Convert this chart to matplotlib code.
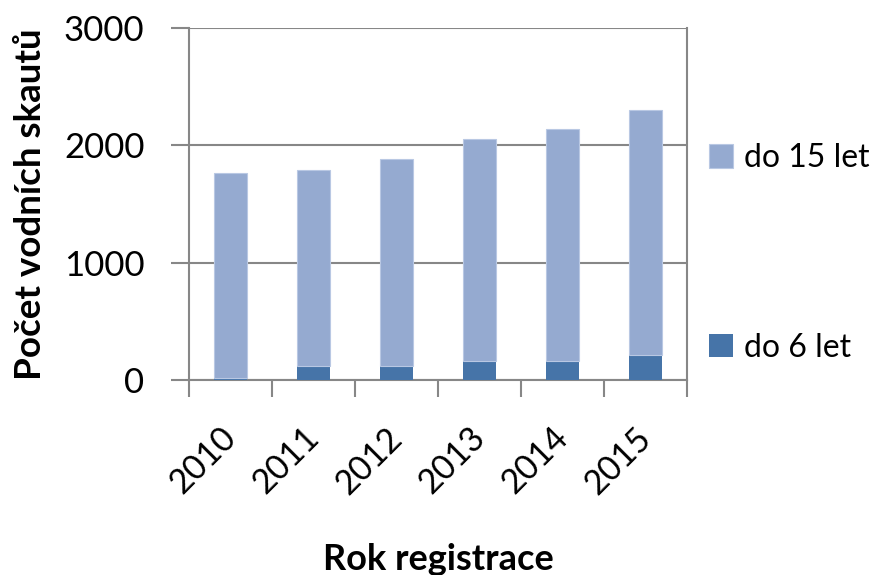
import matplotlib.pyplot as plt
import numpy as np

plt.rcParams['font.family'] = ['Lato', 'DejaVu Sans']

# data
roky = ['2010', '2011', '2012', '2013', '2014', '2015']
do_6 = [20, 122, 122, 158, 165, 216]
celkem = [1760, 1789, 1883, 2054, 2142, 2298]
do_15 = [c - d for c, d in zip(celkem, do_6)]

seda = '#878787'
fig = plt.figure(figsize=(8.94, 5.75), dpi=100)
ax = fig.add_axes([189/894, 1 - 380/575, (687-189)/894, (380-28)/575])

x = np.arange(len(roky))
ax.bar(x, do_6, width=0.4, color='#4674A8', label='do 6 let', zorder=3)
ax.bar(x, do_15, width=0.4, bottom=do_6, color='#95AAD0', edgecolor='#B9C8E3',
       linewidth=0.8, label='do 15 let', zorder=3)

ax.set_xlim(-0.5, len(roky) - 0.5)
ax.set_ylim(0, 3000)
ax.set_yticks([0, 1000, 2000, 3000])
ax.yaxis.grid(True, color=seda, linewidth=1.5, zorder=0)
for s in ax.spines.values():
    s.set_color(seda)
    s.set_linewidth(1.5)
ax.spines['top'].set_visible(False)

# hlavni ticky mezi kategoriemi, popisky na vedlejsich
ax.set_xticks(np.arange(len(roky) + 1) - 0.5, minor=False)
ax.set_xticklabels([])
ax.set_xticks(x, minor=True)
ax.set_xticklabels(roky, minor=True, rotation=45, ha='right', va='center',
                   rotation_mode='anchor', fontsize=24.5)
ax.tick_params(axis='x', which='major', length=12, width=1.5, color=seda)
ax.tick_params(axis='x', which='minor', length=0, pad=38)
ax.tick_params(axis='y', length=13, width=1.5, color=seda, labelsize=25, pad=19)

ax.set_ylabel('Počet vodních skautů', fontsize=26.5, fontweight='bold')
ax.yaxis.set_label_coords(-0.285, 0.5)
ax.set_xlabel('Rok registrace', fontsize=26, fontweight='bold', labelpad=31)

h, l = ax.get_legend_handles_labels()
fig.legend(h[::-1], l[::-1], loc='upper left', bbox_to_anchor=(709/894, 1 - 143/575),
           frameon=False, fontsize=23, handlelength=0.75, handleheight=0.75,
           handletextpad=0.35, labelspacing=5.0, borderpad=0, borderaxespad=0)

fig.savefig('out.png', dpi=100)
